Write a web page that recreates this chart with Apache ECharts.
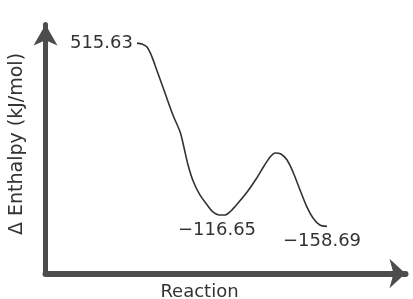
<!DOCTYPE html>
<html>
<head>
<meta charset="utf-8">
<script src="https://cdn.jsdelivr.net/npm/echarts@6/dist/echarts.min.js"></script>
<style>
  html, body { margin: 0; padding: 0; background: #fff; }
  #main { width: 413px; height: 299px; }
</style>
</head>
<body>
<div id="main"></div>
<script>
// reaction coordinate (0-100) and enthalpy (kJ/mol)
var reactionCoord = [25.4, 26.8, 28.2, 29.6, 31.0, 33.2, 35.4, 37.4, 38.5, 39.6, 41.0, 42.9, 44.9, 46.5, 48.2,
    49.9, 51.5, 53.5, 56.0, 58.5, 60.7, 62.4, 63.8, 65.4, 67.1, 68.75, 70.7, 72.6, 74.3, 76.2, 78.2];
var enthalpy = [515.63, 512, 500.9, 464.2, 412.7, 331.8, 250.9, 188.5, 129.6, 67.2, 8.3, -43.1, -79.9, -105.6, -116.65,
    -116.65, -102.0, -72.5, -32.1, 15.7, 63.5, 96.6, 111.3, 107.6, 85.5, 41.4, -24.7, -87.2, -127.7, -153.4, -158.69];
// which points get a value label
var labelIndex = [0, 14, 30];
var labelPos = ['left', 'bottom', 'bottom'];
var labelOffset = [[0, 0], [-2, 0], [-5, 0]];

var myChart = echarts.init(document.getElementById('main'));

function fmt(v) {
    return v.toFixed(2).replace('-', '\u2212');
}

var data1 = [];
for (var i = 0; i < reactionCoord.length; i++) {
    var item = { value: [reactionCoord[i], enthalpy[i]] };
    var k = labelIndex.indexOf(i);
    if (k >= 0) {
        item.label = {
            show: true,
            position: labelPos[k],
            distance: k == 0 ? 4 : 6,
            offset: labelOffset[k],
            formatter: fmt(enthalpy[i])
        };
    }
    data1.push(item);
}

var axisColor = '#4d4d4d';
var textStyle = { fontFamily: 'DejaVu Sans', color: '#333' };

option = {
    animation: false,
    grid: { left: 45.5, right: 7.5, top: 24.5, bottom: 25.5, outerBoundsMode: 'none', containLabel: false },
    xAxis: {
        type: 'value',
        min: 0,
        max: 100,
        name: 'Reaction',
        nameLocation: 'middle',
        nameGap: 10,
        nameTextStyle: Object.assign({ fontSize: 18, padding: [0, 52, 0, 0], verticalAlign: 'top' }, textStyle),
        axisLine: { onZero: false, lineStyle: { color: axisColor, width: 6 }, symbol: ['none', 'arrow'], symbolSize: [22, 16] },
        axisTick: { show: false },
        axisLabel: { show: false },
        splitLine: { show: false }
    },
    yAxis: {
        type: 'value',
        min: -332,
        max: 584,
        name: '\u0394 Enthalpy (kJ/mol)',
        nameLocation: 'middle',
        nameGap: 19,
        nameTextStyle: Object.assign({ fontSize: 19, padding: [0, 0, 0, 10] }, textStyle),
        axisLine: { onZero: false, lineStyle: { color: axisColor, width: 5 }, symbol: ['none', 'arrow'], symbolSize: [18, 21] },
        axisTick: { show: false },
        axisLabel: { show: false },
        splitLine: { show: false }
    },
    series: [
        {
            type: 'line',
            data: data1,
            smooth: 0.3,
            symbol: 'circle',
            symbolSize: 0,
            showSymbol: true,
            lineStyle: { color: '#333', width: 1.6 },
            itemStyle: { color: '#333' },
            label: Object.assign({ fontSize: 18 }, textStyle)
        }
    ]
};

myChart.setOption(option);
</script>
</body>
</html>
